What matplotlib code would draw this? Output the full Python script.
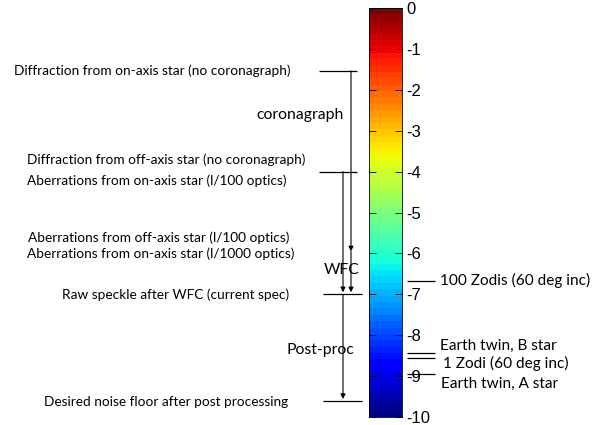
import matplotlib
matplotlib.use("Agg")
import matplotlib.pyplot as plt
import numpy as np

plt.rcParams["axes.unicode_minus"] = False

# contrast levels, log10
cb_ticks = [0, -1, -2, -3, -4, -5, -6, -7, -8, -9, -10]

# left side: horizontal level lines
level_on_axis = -1.54
level_off_axis = -4.0
level_raw = -7.0
level_floor = -9.61
level_wfc_mid = -5.95

left_labels = [
    "Diffraction from on-axis star (no coronagraph)",
    "Diffraction from off-axis star (no coronagraph)",
    "Aberrations from on-axis star (l/100 optics)",
    "Aberrations from off-axis star (l/100 optics)",
    "Aberrations from on-axis star (l/1000 optics)",
    "Raw speckle after WFC (current spec)",
    "Desired noise floor after post processing",
]
left_label_y = [-1.54, -3.72, -4.23, -5.62, -6.01, -7.0, -9.63]
left_label_x = [14, 27, 27, 28, 27, 62, 44]

stage_labels = ["coronagraph", "WFC", "Post-proc"]
stage_y = [-2.62, -6.4, -8.36]
stage_x = [300, 342, 320]

# right side: astrophysical sources
src_levels = [-6.67, -8.43, -8.56, -8.95]
src_labels = ["100 Zodis (60 deg inc)", "Earth twin, B star",
              "1 Zodi (60 deg inc)", "Earth twin, A star"]
src_label_y = [-6.67, -8.26, -8.68, -9.19]
src_label_x = [440, 440, 443, 441]

fig = plt.figure(figsize=(6, 4.25), dpi=100)
# full-width axes, x in pixels, contrast in y
ax = fig.add_axes([0, 8 / 425, 1, 409 / 425])
ax.set_xlim(0, 600)
ax.set_ylim(-10, 0)
ax.axis("off")

txt_font = "Lato"
for s, y, x in zip(left_labels, left_label_y, left_label_x):
    ax.text(x, y, s, fontsize=9.8, family=txt_font, ha="left", va="center")
for s, y, x in zip(stage_labels, stage_y, stage_x):
    ax.text(x, y, s, fontsize=11.3, family=txt_font, ha="center", va="center")

lw = 0.9
ax.hlines([level_on_axis, level_off_axis], 319, 357, color="k", lw=lw)
ax.hlines([level_raw, level_floor], 323, 362, color="k", lw=lw)

def arrow(x, y0, y1):
    ax.annotate("", xy=(x, y1), xytext=(x, y0),
                arrowprops=dict(arrowstyle="-|>", color="k", lw=0.8,
                                mutation_scale=7, shrinkA=0, shrinkB=0))

arrow(351, level_on_axis, level_wfc_mid)
arrow(351, level_wfc_mid, level_raw + 0.05)
arrow(343, level_off_axis, level_raw + 0.05)
arrow(343, level_raw, level_floor + 0.05)

ax.hlines(src_levels, 407, 435, color="k", lw=lw)
for s, y, x in zip(src_labels, src_label_y, src_label_x):
    ax.text(x, y, s, fontsize=11.1, family=txt_font, ha="left", va="center")

# colour bar
cax = fig.add_axes([369 / 600, 8 / 425, 33 / 600, 409 / 425])
grad = np.linspace(0, -10, 64).reshape(-1, 1)
cax.imshow(grad, aspect="auto", cmap="jet", vmin=-10, vmax=0,
           extent=[0, 1, -10, 0], origin="upper")
cax.set_ylim(-10, 0)
cax.set_xticks([])
cax.set_yticks(cb_ticks)
cax.yaxis.tick_right()
cax.tick_params(axis="y", direction="in", length=5, width=0.6, right=True,
                left=True, labelsize=12, pad=3)
for t in cax.get_yticklabels():
    t.set_family("Liberation Sans")
for sp in cax.spines.values():
    sp.set_linewidth(0.6)

fig.savefig("out.png", dpi=100)
